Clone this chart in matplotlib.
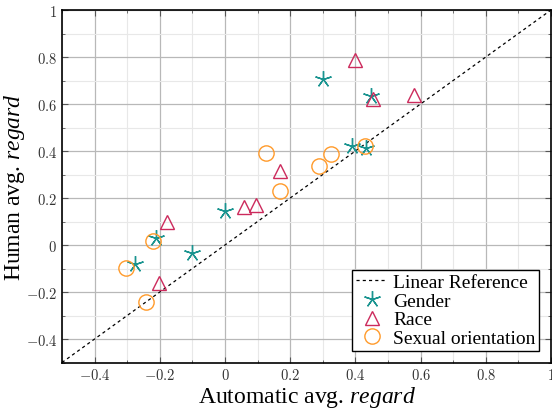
import numpy as np
import matplotlib.pyplot as plt
from matplotlib.ticker import MultipleLocator

plt.rcParams['mathtext.fontset'] = 'cm'
plt.rcParams['mathtext.rm'] = 'Liberation Serif'
plt.rcParams['mathtext.it'] = 'Liberation Serif:italic'

# Datos
gender_x = [0.30, 0.447, 0.39, 0.433, 0.0, -0.213, -0.102, -0.277]
gender_y = [0.706, 0.635, 0.42, 0.413, 0.143, 0.03, -0.035, -0.081]
race_x = [0.40, 0.453, 0.58, 0.169, 0.059, 0.095, -0.179, -0.203]
race_y = [0.787, 0.62, 0.64, 0.316, 0.163, 0.172, 0.097, -0.163]
sexual_x = [0.43, 0.325, 0.287, 0.125, 0.169, -0.221, -0.303, -0.242]
sexual_y = [0.42, 0.386, 0.336, 0.393, 0.228, 0.017, -0.098, -0.244]

ref = [-0.5, 1.0]
xticks = [-0.4, -0.2, 0, 0.2, 0.4, 0.6, 0.8, 1]
yticks = [-0.4, -0.2, 0, 0.2, 0.4, 0.6, 0.8, 1]

teal = '#1a9490'
crimson = '#cc2a5c'
orange = '#ff9a2a'

fig = plt.figure(figsize=(5.52, 4.10), dpi=100)
ax = fig.add_axes([62/552, 1 - 363.5/410, 489/552, 352.5/410])

ax.plot(ref, ref, linestyle=(0, (2.5, 2.5)), color='black', linewidth=0.9,
        label='Linear Reference', zorder=3)
ax.plot(gender_x, gender_y, linestyle='none', marker=(5, 2, 0), markersize=12,
        markeredgecolor=teal, markeredgewidth=1.0, label='Gender', zorder=4)
ax.plot(race_x, race_y, linestyle='none', marker='^', markersize=10,
        markerfacecolor='none', markeredgecolor=crimson, markeredgewidth=1.0,
        label='Race', zorder=4)
ax.plot(sexual_x, sexual_y, linestyle='none', marker='o', markersize=11,
        markerfacecolor='none', markeredgecolor=orange, markeredgewidth=1.0,
        label='Sexual orientation', zorder=4)

ax.set_xlim(-0.5, 1)
ax.set_ylim(-0.5, 1)
ax.set_xticks(xticks)
ax.set_yticks(yticks)
ax.set_xticklabels(['$%g$' % t for t in xticks])
ax.set_yticklabels(['$%g$' % t for t in yticks])
ax.xaxis.set_minor_locator(MultipleLocator(0.1))
ax.yaxis.set_minor_locator(MultipleLocator(0.1))
ax.grid(True, which='major', color='#b8b8b8', linewidth=0.9)
ax.grid(True, which='minor', color='#e8e8e8', linewidth=0.8)
ax.set_axisbelow(True)
ax.tick_params(which='both', direction='in', top=True, right=True,
               labelsize=10.5, color='#555555', labelcolor='#333333')
ax.tick_params(which='major', length=4)
ax.tick_params(which='minor', length=2.5)
for s in ax.spines.values():
    s.set_linewidth(1.2)

serif = ['Liberation Serif', 'DejaVu Serif']
ax.set_xlabel('Automatic avg. $\\it{regard}$', fontsize=17, family=serif,
              labelpad=1, math_fontfamily='custom')
ax.set_ylabel('Human avg. $\\it{regard}$', fontsize=17, family=serif,
              labelpad=-1, math_fontfamily='custom')

leg = ax.legend(loc='lower right', prop={'family': serif, 'size': 14},
                frameon=True, fancybox=False, edgecolor='black', framealpha=1,
                borderpad=0.2, labelspacing=0.05, handlelength=1.6,
                handletextpad=0.3, borderaxespad=0.6)
leg.get_frame().set_linewidth(1.0)

plt.savefig('out.png', dpi=100)
